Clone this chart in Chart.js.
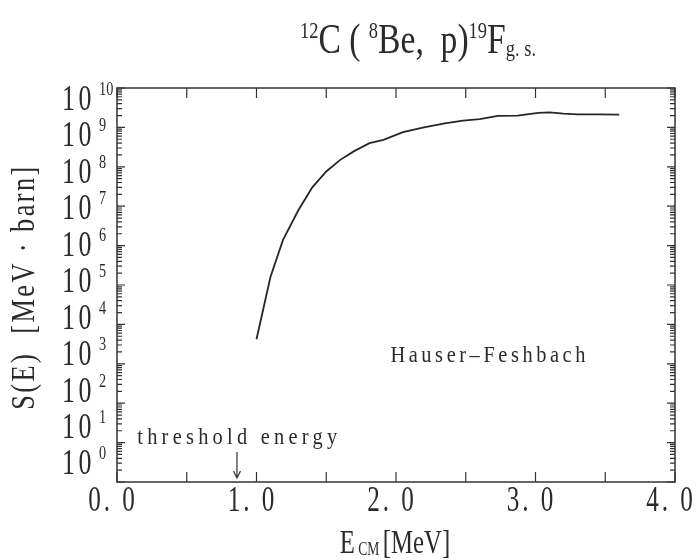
<!DOCTYPE html>
<html>
<head>
<meta charset="utf-8">
<script src="https://cdn.jsdelivr.net/npm/chart.js@4"></script>
<style>
  html, body { margin: 0; padding: 0; background: #fff; }
  #sfactor { display: block; }
</style>
</head>
<body>
<canvas id="sfactor" width="699" height="560"></canvas>
<script>
// Center-of-mass energy [MeV]
const ENERGY = [1.00, 1.10, 1.19, 1.30, 1.40, 1.50, 1.60, 1.70, 1.81, 1.91, 2.05, 2.20,
  2.35, 2.48, 2.60, 2.73, 2.87, 3.02, 3.10, 3.20, 3.30, 3.45, 3.60];
// S(E) [MeV barn], Hauser-Feshbach curve
const S_FACTOR = [4.2e3, 1.6e5, 1.4e6, 7.9e6, 3.0e7, 7.6e7, 1.5e8, 2.5e8, 4.0e8, 4.8e8, 7.6e8, 1.0e9,
  1.26e9, 1.48e9, 1.62e9, 1.95e9, 2.0e9, 2.34e9, 2.4e9, 2.24e9, 2.14e9, 2.14e9, 2.1e9];
const X_TICKS = [0, 1, 2, 3, 4];           // labelled energies
const X_MINOR = [0.5, 1.5, 2.5, 3.5];
const DECADES = [0, 1, 2, 3, 4, 5, 6, 7, 8, 9, 10]; // powers of ten on the y axis
const THRESHOLD = 0.86;                    // threshold energy arrow [MeV]

const SERIF = '"Liberation Serif", "DejaVu Serif", serif';
const INK = '#2b2b2b';

// draw condensed serif text (the original uses a narrow typewriter-ish face)
function txt(ctx, s, x, y, size, opt = {}) {
  const sx = opt.sx || 0.72;
  ctx.save();
  ctx.font = size + 'px ' + SERIF;
  ctx.letterSpacing = (opt.ls || 0) + 'px';
  ctx.fillStyle = INK;
  ctx.textBaseline = 'alphabetic';
  const w = ctx.measureText(s).width * sx;
  let x0 = x;
  if (opt.align === 'center') x0 = x - w / 2;
  if (opt.align === 'right') x0 = x - w;
  ctx.translate(x0, y);
  ctx.scale(sx, 1);
  ctx.fillText(s, 0, 0);
  ctx.restore();
  return w;
}

// pieces: [text, kind] with kind main / sup / sub
function runWidth(ctx, pieces, size, sx) {
  let w = 0;
  for (const [s, k] of pieces) {
    ctx.font = (k === 'main' ? size : size * 0.55) + 'px ' + SERIF;
    ctx.letterSpacing = '0px';
    w += ctx.measureText(s).width * sx;
  }
  return w;
}
function drawRun(ctx, pieces, cx, y, size, sx) {
  let x = cx - runWidth(ctx, pieces, size, sx) / 2;
  for (const [s, k] of pieces) {
    if (k === 'main') x += txt(ctx, s, x, y, size, { sx });
    else if (k === 'sup') x += txt(ctx, s, x, y - size * 0.36, size * 0.55, { sx });
    else x += txt(ctx, s, x, y + size * 0.06, size * 0.55, { sx });
  }
}

const framePlugin = {
  id: 'frame',
  afterDraw(chart) {
    const { ctx, chartArea: a } = chart;
    const xs = chart.scales.x, ys = chart.scales.y;
    ctx.save();
    ctx.strokeStyle = '#333';
    ctx.lineWidth = 1.5;
    ctx.strokeRect(a.left, a.top, a.right - a.left, a.bottom - a.top);

    ctx.lineWidth = 1.2;
    ctx.beginPath();
    // x ticks, inward, bottom and top
    for (const v of X_TICKS.concat(X_MINOR)) {
      const px = xs.getPixelForValue(v);
      ctx.moveTo(px, a.bottom); ctx.lineTo(px, a.bottom - 10);
      ctx.moveTo(px, a.top); ctx.lineTo(px, a.top + 10);
    }
    // y ticks: decades plus 2..9 minors, left and right
    for (const d of DECADES) {
      const py = ys.getPixelForValue(Math.pow(10, d));
      ctx.moveTo(a.left, py); ctx.lineTo(a.left + 8, py);
      ctx.moveTo(a.right, py); ctx.lineTo(a.right - 8, py);
      if (d === 10) continue;
      for (let m = 2; m <= 9; m++) {
        const pm = ys.getPixelForValue(m * Math.pow(10, d));
        ctx.moveTo(a.left, pm); ctx.lineTo(a.left + 5, pm);
        ctx.moveTo(a.right, pm); ctx.lineTo(a.right - 5, pm);
      }
    }
    ctx.stroke();

    // x tick labels
    for (const v of X_TICKS) {
      txt(ctx, v.toFixed(1).replace('.', '. '), xs.getPixelForValue(v) - 4, a.bottom + 29, 35,
        { align: 'center', sx: 0.72, ls: 4 });
    }
    // y tick labels 10^n (the original spaces them slightly tighter than the ticks)
    for (const d of DECADES) {
      const py = a.top + 10 + (ys.getPixelForValue(Math.pow(10, d)) - a.top) * 0.925;
      txt(ctx, '10', a.left - 22, py + 12, 36, { align: 'right', sx: 0.72, ls: 5 });
      txt(ctx, String(d), a.left - 18, py - 3, 19, { sx: 0.75 });
    }

    // title
    drawRun(ctx, [['12', 'sup'], ['C', 'main'], [' ( ', 'main'], ['8', 'sup'], ['Be,  p)', 'main'],
      ['19', 'sup'], ['F', 'main'], ['g. s.', 'sub']], 418, 53, 42, 0.8);
    // axis titles
    drawRun(ctx, [['E', 'main'], [' CM ', 'sub'], ['[MeV]', 'main']], 395, 553, 33, 0.75);
    ctx.save();
    ctx.translate(34, 287);
    ctx.rotate(-Math.PI / 2);
    txt(ctx, 'S(E)  [MeV \u00b7 barn]', 0, 0, 33, { align: 'center', sx: 0.8, ls: 3 });
    ctx.restore();

    // annotations
    txt(ctx, 'Hauser\u2013Feshbach', xs.getPixelForValue(1.96), ys.getPixelForValue(1.1e3), 24,
      { sx: 0.85, ls: 4.2 });
    txt(ctx, 'threshold energy', xs.getPixelForValue(0.145), ys.getPixelForValue(9), 24,
      { sx: 0.85, ls: 5 });
    const ax = xs.getPixelForValue(THRESHOLD);
    ctx.strokeStyle = '#333';
    ctx.lineWidth = 1.2;
    ctx.beginPath();
    ctx.moveTo(ax, a.bottom - 30); ctx.lineTo(ax, a.bottom - 4);
    ctx.moveTo(ax - 3.5, a.bottom - 11); ctx.lineTo(ax, a.bottom - 4); ctx.lineTo(ax + 3.5, a.bottom - 11);
    ctx.stroke();
    ctx.restore();
  }
};

const config = {
  type: 'scatter',
  data: {
    datasets: [{
      data: ENERGY.map((e, i) => ({ x: e, y: S_FACTOR[i] })),
      showLine: true,
      borderColor: '#262626',
      borderWidth: 1.8,
      pointRadius: 0,
      tension: 0
    }]
  },
  options: {
    responsive: false,
    animation: false,
    layout: { padding: { left: 117, right: 24, top: 88, bottom: 78 } },
    plugins: { legend: { display: false }, tooltip: { enabled: false } },
    scales: {
      x: {
        type: 'linear', min: 0, max: 4,
        ticks: { display: false }, grid: { display: false }, border: { display: false },
        afterFit: s => { s.height = 0; }
      },
      y: {
        type: 'logarithmic', min: 1, max: 1e10,
        ticks: { display: false }, grid: { display: false }, border: { display: false },
        afterFit: s => { s.width = 0; }
      }
    }
  },
  plugins: [framePlugin]
};

new Chart(document.getElementById('sfactor').getContext('2d'), config);
</script>
</body>
</html>
